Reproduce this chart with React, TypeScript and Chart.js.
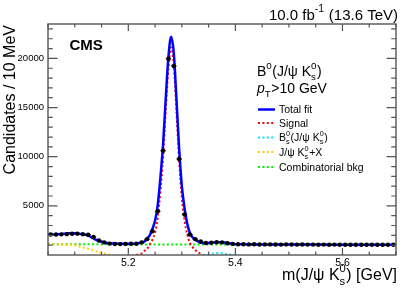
import React, { useEffect, useRef } from "react";
import { Chart, registerables } from "chart.js";

Chart.register(...registerables);

const FONT = "'Liberation Sans', Arial, Helvetica, sans-serif";

// ---- data (bins of 10 MeV) ----
const binCenters = [
  5.055, 5.065, 5.075, 5.085, 5.095, 5.105, 5.115, 5.125, 5.135, 5.145,
  5.155, 5.165, 5.175, 5.185, 5.195, 5.205, 5.215, 5.225, 5.235, 5.245,
  5.255, 5.265, 5.275, 5.285, 5.295, 5.305, 5.315, 5.325, 5.335, 5.345,
  5.355, 5.365, 5.375, 5.385, 5.395, 5.405, 5.415, 5.425, 5.435, 5.445,
  5.455, 5.465, 5.475, 5.485, 5.495, 5.505, 5.515, 5.525, 5.535, 5.545,
  5.555, 5.565, 5.575, 5.585, 5.595, 5.605, 5.615, 5.625, 5.635, 5.645,
  5.655, 5.665, 5.675, 5.685, 5.695,
];
const counts = [
  2090, 2090, 2100, 2120, 2160, 2170, 2120, 2060, 1830, 1480,
  1280, 1160, 1120, 1110, 1130, 1140, 1150, 1280, 1610, 2420,
  4450, 10610, 19970, 19230, 9770, 4120, 2090, 1610, 1380, 1220,
  1240, 1290, 1280, 1200, 1130, 1100, 1090, 1080, 1090, 1070,
  1080, 1080, 1070, 1060, 1080, 1070, 1060, 1070, 1060, 1060,
  1050, 1060, 1050, 1060, 1050, 1040, 1050, 1050, 1040, 1050,
  1040, 1040, 1050, 1040, 1040,
];
const binHalfWidth = 0.005;

// ---- fit curves ----
const totalMass = [
  5.05, 5.06, 5.07, 5.08, 5.09, 5.1, 5.11, 5.12, 5.125, 5.13, 5.137, 5.145, 5.15,
  5.16, 5.175, 5.19, 5.205, 5.215, 5.225, 5.23, 5.235, 5.24, 5.245, 5.25, 5.255,
  5.26, 5.265, 5.27, 5.275, 5.28, 5.285, 5.29, 5.295, 5.3, 5.305, 5.31, 5.315,
  5.32, 5.325, 5.33, 5.335, 5.345, 5.355, 5.365, 5.375, 5.385, 5.395, 5.41,
  5.45, 5.5, 5.55, 5.6, 5.65, 5.7,
];
const totalFit = [
  2080, 2090, 2110, 2150, 2200, 2200, 2150, 2060, 1980, 1830, 1620, 1430, 1340,
  1230, 1160, 1140, 1150, 1180, 1270, 1380, 1640, 2000, 2650, 3500, 5100,
  7900, 11300, 16000, 20200, 22200, 20500, 15800, 10800, 7000, 4800, 3200, 2250,
  1800, 1540, 1380, 1280, 1220, 1250, 1300, 1300, 1230, 1130, 1090,
  1080, 1070, 1060, 1050, 1045, 1040,
];
const signalMass = [
  5.215, 5.22, 5.225, 5.23, 5.235, 5.24, 5.245, 5.25, 5.255, 5.26, 5.265, 5.27,
  5.275, 5.28, 5.285, 5.29, 5.295, 5.3, 5.305, 5.31, 5.315, 5.32, 5.325, 5.33,
  5.335, 5.34,
];
const signalFit = [
  0, 60, 150, 420, 620, 1050, 1550, 2300, 3800, 6500, 10000, 14800,
  19000, 21100, 19400, 14600, 9600, 5800, 3500, 2100, 1250, 800, 500, 280,
  120, 0,
];
const bsMass = [5.34, 5.348, 5.356, 5.364, 5.37, 5.378, 5.386, 5.394, 5.4];
const bsFit = [0, 40, 120, 190, 200, 150, 70, 20, 0];
const partMass = [5.05, 5.08, 5.095, 5.1, 5.106, 5.112, 5.122, 5.131, 5.1435, 5.156, 5.166, 5.172];
const partFit = [1060, 1055, 1030, 1000, 920, 810, 670, 530, 300, 130, 35, 0];
const combMass = [5.05, 5.375, 5.7];
const combFit = [1090, 1065, 1040];

// ---- axes ----
const xMin = 5.05;
const xMax = 5.7;
const yMin = 0;
const yMax = 23500;
const xMajorTicks = [5.2, 5.4, 5.6];
const xTickLabels = ["5.2", "5.4", "5.6"];
const xMinorTicks = [5.05, 5.1, 5.15, 5.25, 5.3, 5.35, 5.45, 5.5, 5.55, 5.65, 5.7];
const yMajorTicks = [5000, 10000, 15000, 20000];
const yTickLabels = ["5000", "10000", "15000", "20000"];
const yMinorTicks = [
  1000, 2000, 3000, 4000, 6000, 7000, 8000, 9000, 11000, 12000, 13000, 14000,
  16000, 17000, 18000, 19000, 21000, 22000, 23000,
];

type Seg = { t?: string; sup?: string; sub?: string; italic?: boolean; bold?: boolean };

function fontOf(size: number, italic?: boolean, bold?: boolean) {
  return `${italic ? "italic " : ""}${bold ? "bold " : ""}${size}px ${FONT}`;
}

function richWidth(ctx: CanvasRenderingContext2D, segs: Seg[], size: number) {
  let w = 0;
  for (const s of segs) {
    if (s.sup !== undefined || s.sub !== undefined) {
      ctx.font = fontOf(size * 0.7);
      const a = s.sup ? ctx.measureText(s.sup).width : 0;
      const b = s.sub ? ctx.measureText(s.sub).width : 0;
      w += Math.max(a, b) + 0.5;
    } else {
      ctx.font = fontOf(size, s.italic, s.bold);
      w += ctx.measureText(s.t || "").width;
    }
  }
  return w;
}

function drawRich(
  ctx: CanvasRenderingContext2D,
  segs: Seg[],
  x: number,
  y: number,
  size: number,
  align: "left" | "right",
  color = "#000"
) {
  const w = richWidth(ctx, segs, size);
  let cx = align === "right" ? x - w : x;
  ctx.fillStyle = color;
  ctx.textAlign = "left";
  ctx.textBaseline = "alphabetic";
  for (const s of segs) {
    if (s.sup !== undefined || s.sub !== undefined) {
      const ss = size * 0.7;
      ctx.font = fontOf(ss);
      let a = 0;
      let b = 0;
      if (s.sup) {
        ctx.fillText(s.sup, cx, y - size * 0.5);
        a = ctx.measureText(s.sup).width;
      }
      if (s.sub) {
        ctx.fillText(s.sub, cx, y + size * 0.3);
        b = ctx.measureText(s.sub).width;
      }
      cx += Math.max(a, b) + 0.5;
    } else {
      ctx.font = fontOf(size, s.italic, s.bold);
      ctx.fillText(s.t || "", cx, y);
      cx += ctx.measureText(s.t || "").width;
    }
  }
}

const COL_TOTAL = "#0000ff";
const COL_SIG = "#ff0000";
const COL_BS = "#00e5ff";
const COL_PART = "#ffcc00";
const COL_COMB = "#00ee00";
const DOT = [2, 2.4];

const legendItems: { segs: Seg[]; color: string; dashed: boolean }[] = [
  { segs: [{ t: "Total fit" }], color: COL_TOTAL, dashed: false },
  { segs: [{ t: "Signal" }], color: COL_SIG, dashed: true },
  {
    segs: [{ t: "B" }, { sup: "0", sub: "s" }, { t: "(J/\u03c8 K" }, { sup: "0", sub: "s" }, { t: ")" }],
    color: COL_BS,
    dashed: true,
  },
  { segs: [{ t: "J/\u03c8 K" }, { sup: "0", sub: "s" }, { t: "+X" }], color: COL_PART, dashed: true },
  { segs: [{ t: "Combinatorial bkg" }], color: COL_COMB, dashed: true },
];
const legendRows = [109.5, 123, 137.5, 152, 167];

const decor = {
  id: "decor",
  beforeDatasetsDraw(chart: any) {
    const { ctx, chartArea: a, scales } = chart;
    const x = scales.x;
    const y = scales.y;
    ctx.save();
    ctx.beginPath();
    ctx.rect(a.left, a.top, a.right - a.left, a.bottom - a.top);
    ctx.clip();
    ctx.strokeStyle = "#000";
    ctx.lineWidth = 1.2;
    binCenters.forEach((m, i) => {
      const py = y.getPixelForValue(counts[i]);
      ctx.beginPath();
      ctx.moveTo(x.getPixelForValue(m - binHalfWidth), py);
      ctx.lineTo(x.getPixelForValue(m + binHalfWidth), py);
      ctx.stroke();
    });
    ctx.restore();
  },
  afterDraw(chart: any) {
    const { ctx, chartArea: a, scales } = chart;
    const x = scales.x;
    const y = scales.y;
    ctx.save();
    // frame
    ctx.strokeStyle = "#555";
    ctx.lineWidth = 1.4;
    ctx.strokeRect(a.left, a.top, a.right - a.left, a.bottom - a.top);
    // ticks
    ctx.lineWidth = 1.2;
    const xt = (v: number, len: number) => {
      const px = x.getPixelForValue(v);
      ctx.beginPath();
      ctx.moveTo(px, a.bottom);
      ctx.lineTo(px, a.bottom - len);
      ctx.moveTo(px, a.top);
      ctx.lineTo(px, a.top + len);
      ctx.stroke();
    };
    const yt = (v: number, len: number) => {
      const py = y.getPixelForValue(v);
      ctx.beginPath();
      ctx.moveTo(a.left, py);
      ctx.lineTo(a.left + len, py);
      ctx.moveTo(a.right, py);
      ctx.lineTo(a.right - len, py);
      ctx.stroke();
    };
    xMajorTicks.forEach((v) => xt(v, 7));
    xMinorTicks.forEach((v) => xt(v, 3.5));
    yMajorTicks.forEach((v) => yt(v, 9.5));
    yMinorTicks.forEach((v) => yt(v, 4.8));

    // tick labels
    ctx.fillStyle = "#000";
    ctx.font = fontOf(10.5);
    ctx.textAlign = "center";
    ctx.textBaseline = "alphabetic";
    xMajorTicks.forEach((v, i) => ctx.fillText(xTickLabels[i], x.getPixelForValue(v), 265.5));
    ctx.font = fontOf(9.5);
    ctx.textAlign = "right";
    ctx.textBaseline = "middle";
    yMajorTicks.forEach((v, i) => ctx.fillText(yTickLabels[i], 44, y.getPixelForValue(v)));

    // axis titles
    drawRich(
      ctx,
      [{ t: "m(J/\u03c8 K" }, { sup: "0", sub: "s" }, { t: ") [GeV]" }],
      397,
      280,
      16,
      "right"
    );
    ctx.save();
    ctx.translate(14.5, 25);
    ctx.rotate(-Math.PI / 2);
    drawRich(ctx, [{ t: "Candidates / 10 MeV" }], 0, 0, 16, "right");
    ctx.restore();

    // header
    drawRich(ctx, [{ t: "10.0 fb" }, { sup: "-1" }, { t: " (13.6 TeV)" }], 398, 19.5, 15, "right");
    drawRich(ctx, [{ t: "CMS", bold: true }], 69.5, 50, 15, "left");

    // legend header
    drawRich(
      ctx,
      [{ t: "B" }, { sup: "0" }, { t: "(J/\u03c8 K" }, { sup: "0", sub: "s" }, { t: ")" }],
      257,
      75.5,
      14,
      "left"
    );
    drawRich(ctx, [{ t: "p", italic: true }, { sub: "T" }, { t: ">10 GeV" }], 257, 93, 14, "left");

    legendItems.forEach((it, i) => {
      const ry = legendRows[i];
      ctx.strokeStyle = it.color;
      ctx.lineWidth = it.dashed ? 2 : 2.5;
      ctx.setLineDash(it.dashed ? DOT : []);
      ctx.beginPath();
      ctx.moveTo(258, ry);
      ctx.lineTo(275, ry);
      ctx.stroke();
      ctx.setLineDash([]);
      drawRich(ctx, it.segs, 279, ry + 3.8, 10.5, "left");
    });
    ctx.restore();
  },
};

function pts(ms: number[], vs: number[]) {
  return ms.map((m, i) => ({ x: m, y: vs[i] }));
}

export default function App() {
  const ref = useRef<HTMLCanvasElement | null>(null);
  useEffect(() => {
    if (!ref.current) return;
    const curve = (label: string, d: any[], color: string, dashed: boolean, w: number) => ({
      label,
      data: d,
      showLine: true,
      borderColor: color,
      backgroundColor: color,
      borderWidth: w,
      borderDash: dashed ? DOT : [],
      pointRadius: 0,
      cubicInterpolationMode: "monotone" as const,
      fill: false,
    });
    const chart = new Chart(ref.current, {
      type: "scatter",
      data: {
        datasets: [
          {
            label: "Data",
            data: pts(binCenters, counts),
            showLine: false,
            pointRadius: 2.2,
            pointBackgroundColor: "#000",
            pointBorderColor: "#000",
            pointBorderWidth: 0,
          } as any,
          curve("Total fit", pts(totalMass, totalFit), COL_TOTAL, false, 2.5),
          curve("Signal", pts(signalMass, signalFit), COL_SIG, true, 2),
          curve("Bs", pts(bsMass, bsFit), COL_BS, true, 2),
          curve("Part", pts(partMass, partFit), COL_PART, true, 2),
          curve("Comb", pts(combMass, combFit), COL_COMB, true, 2),
        ],
      },
      options: {
        animation: false,
        responsive: false,
        devicePixelRatio: 1,
        events: [],
        layout: { padding: { left: 48, top: 24, right: 11, bottom: 37 } },
        plugins: { legend: { display: false }, tooltip: { enabled: false } },
        scales: {
          x: { type: "linear", min: xMin, max: xMax, display: false },
          y: { type: "linear", min: yMin, max: yMax, display: false },
        },
      },
      plugins: [decor],
    });
    return () => chart.destroy();
  }, []);
  return (
    <div style={{ position: "fixed", left: 0, top: 0, width: 407, height: 292, background: "#fff" }}>
      <canvas ref={ref} width={407} height={292} style={{ width: 407, height: 292, display: "block" }} />
    </div>
  );
}
